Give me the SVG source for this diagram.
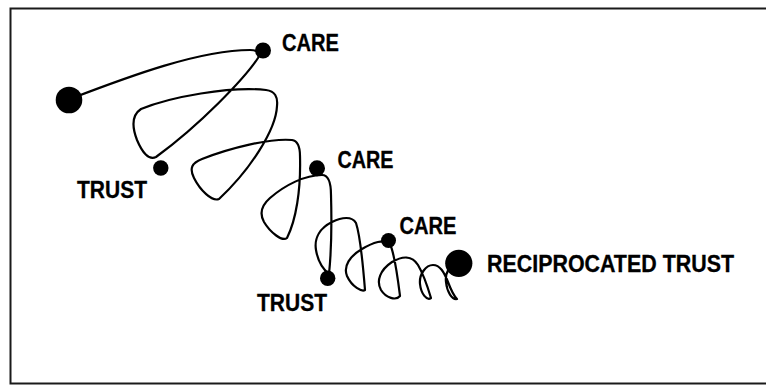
<svg xmlns="http://www.w3.org/2000/svg" width="766" height="385" viewBox="0 0 766 385">
<style>
.frame{fill:none;stroke:#1a1a1a;stroke-width:2}
.curve{fill:none;stroke:#000;stroke-width:2.2;stroke-linejoin:round;stroke-linecap:round}
.dot{fill:#000}
.lbl{font-family:"Liberation Sans",Arial,sans-serif;font-weight:bold;font-size:23px;fill:#000;stroke:#000;stroke-width:0.3}
</style>
<rect width="766" height="385" fill="#fff"/>
<rect class="frame" x="10.5" y="8.5" width="760" height="375"/>
<g id="connectors">
<path class="curve" d="M 70,99 C 130,76 200,50 250,50 C 257,50 261,53 258,58 C 245,78 200,125 156,157 C 149,161 142,152 137,140 C 132,127 132,115 141,109 C 170,97 230,86 266,90 C 275,91 278,97 277,106 C 276,130 250,170 219,199 C 212,202 200,190 194,178 C 189,168 192,163 202,159 C 230,148 270,138 292,140 C 298,141 300,147 300,156 C 301,190 296,220 287,238 C 282,242 270,232 264,222 C 259,213 262,205 270,198 C 285,185 305,175 322,175 C 328,175 331,182 331,195 C 332,230 331,255 329,274 C 324,270 318,262 316,250 C 314,238 320,228 332,222 C 342,217 352,216 356,223 C 360,235 363,265 365,290 C 362,292 352,287 347,276 C 343,266 350,256 362,249 C 372,243 385,238 390,244 C 395,255 398,280 400,296 C 396,301 386,298 381,290 C 376,281 380,270 392,262 C 402,256 412,255 418,265 C 424,275 428,288 431,298 C 427,301 421,294 420,284 C 419,274 426,265 433,265 C 440,265 444,272 448,282 C 451,290 455,297 457,299 C 452,300 447,292 446,282 C 445,274 448,268 455,264"/>
</g>
<g id="start">
<circle class="dot" cx="69" cy="100" r="13.3"/>
</g>
<g id="care1">
<circle class="dot" cx="263" cy="50.5" r="8"/>
<text class="lbl" x="282" y="51" textLength="57" lengthAdjust="spacingAndGlyphs">CARE</text>
</g>
<g id="trust1">
<circle class="dot" cx="160.8" cy="168" r="7.7"/>
<text class="lbl" x="77" y="198" textLength="70" lengthAdjust="spacingAndGlyphs">TRUST</text>
</g>
<g id="care2">
<circle class="dot" cx="317" cy="168.3" r="8"/>
<text class="lbl" x="337.5" y="167.5" textLength="56" lengthAdjust="spacingAndGlyphs">CARE</text>
</g>
<g id="trust2">
<circle class="dot" cx="327.7" cy="278.3" r="7.7"/>
<text class="lbl" x="257" y="311" textLength="70" lengthAdjust="spacingAndGlyphs">TRUST</text>
</g>
<g id="care3">
<circle class="dot" cx="388.5" cy="240.5" r="7.5"/>
<text class="lbl" x="399.5" y="233.5" textLength="57" lengthAdjust="spacingAndGlyphs">CARE</text>
</g>
<g id="reciprocated">
<circle class="dot" cx="458.8" cy="263.3" r="13.6"/>
<text class="lbl" x="487" y="272" textLength="247" lengthAdjust="spacingAndGlyphs">RECIPROCATED TRUST</text>
</g>
</svg>
